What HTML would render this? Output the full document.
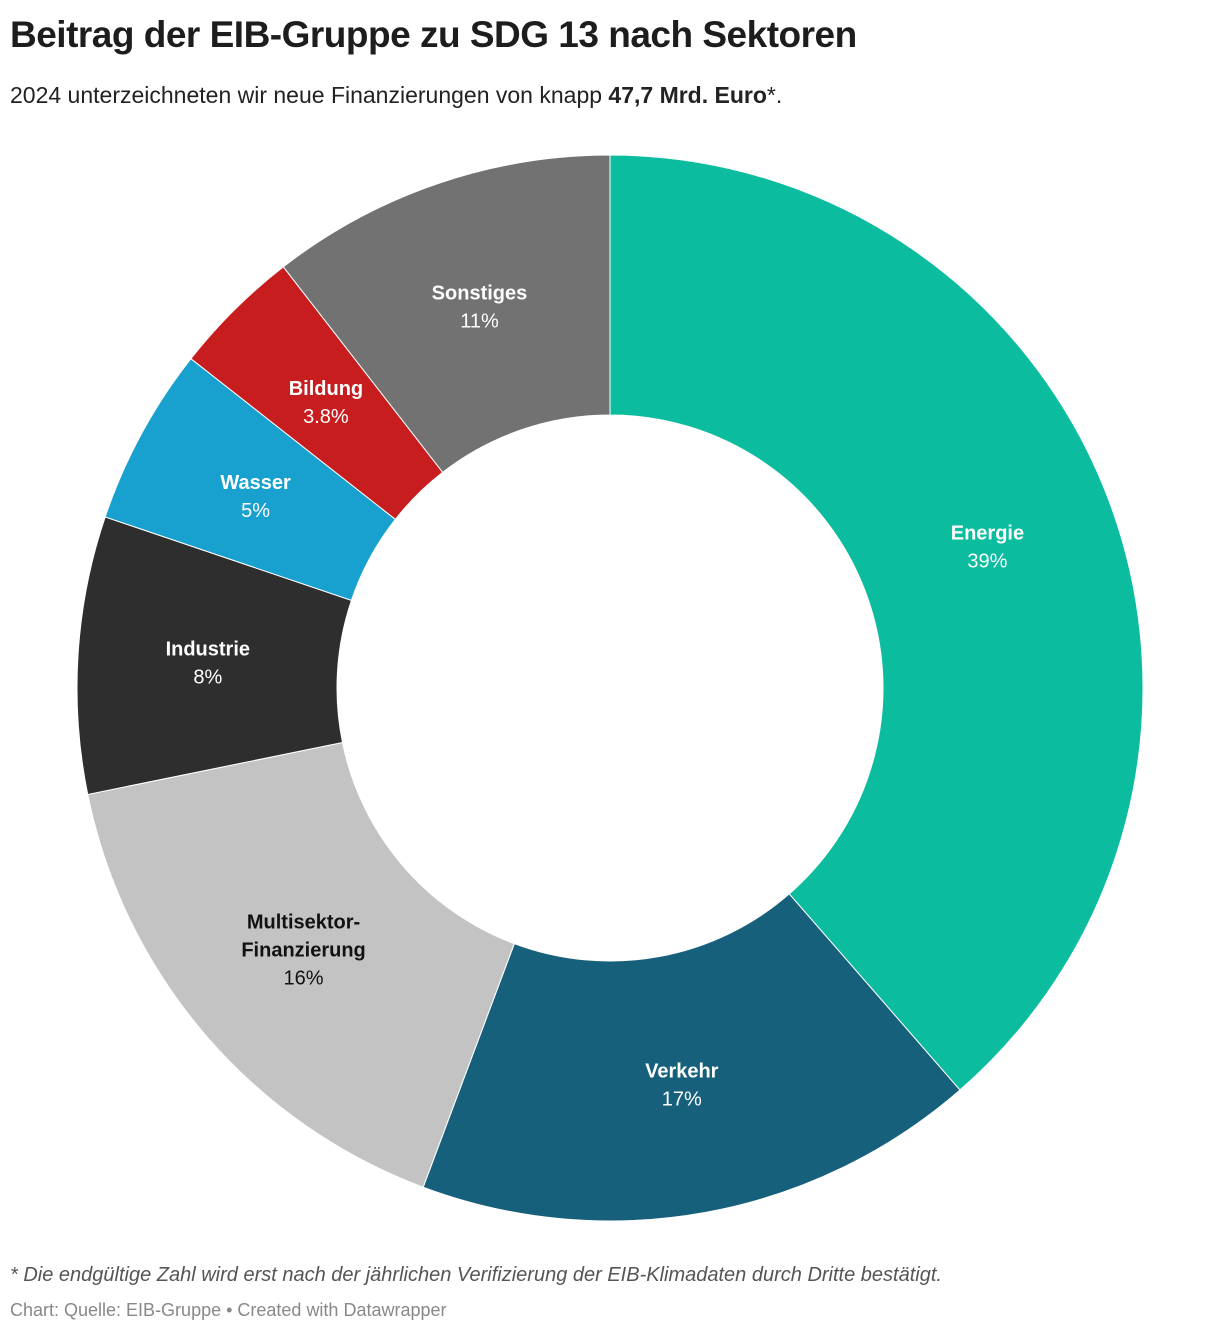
<!DOCTYPE html>
<html><head><meta charset="utf-8">
<style>
body{margin:0;background:#fff;width:1220px;height:1336px;overflow:hidden;font-family:"Liberation Sans",sans-serif;}
#title{position:absolute;left:10px;top:14px;font-size:37px;font-weight:bold;color:#1d1d1d;letter-spacing:-0.5px;}
#sub{position:absolute;left:10px;top:82px;font-size:23px;color:#222;}
#note{position:absolute;left:10px;top:1264px;font-size:20px;font-style:italic;color:#555;}
#src{position:absolute;left:10px;top:1300px;font-size:18px;color:#888;}
svg{position:absolute;left:0;top:0;}
</style></head><body>
<div id="title">Beitrag der EIB-Gruppe zu SDG 13 nach Sektoren</div>
<div id="sub">2024 unterzeichneten wir neue Finanzierungen von knapp <b>47,7 Mrd. Euro</b>*.</div>
<svg id="chart" width="1220" height="1336"></svg>
<div id="note">* Die endgültige Zahl wird erst nach der jährlichen Verifizierung der EIB-Klimadaten durch Dritte bestätigt.</div>
<div id="src">Chart: Quelle: EIB-Gruppe • Created with Datawrapper</div>
<script>
const categories=["Energie","Verkehr","Multisektor-|Finanzierung","Industrie","Wasser","Bildung","Sonstiges"];
const values=[38.6,17.1,16.1,8.4,5.4,3.9,10.5];
const valueLabels=["39%","17%","16%","8%","5%","3.8%","11%"];
const colors=["#0bbc9f","#17607c","#c3c3c3","#2e2e2e","#18a0cf","#c71d1e","#727272"];
const textColors=["#fff","#fff","#111","#fff","#fff","#fff","#fff"];
const cx=610,cy=688,R=533,r=273,NS="http://www.w3.org/2000/svg";
const svg=document.getElementById('chart');
const total=values.reduce((a,b)=>a+b,0);
function pt(a,rad){return [cx+rad*Math.sin(a),cy-rad*Math.cos(a)];}
let acc=0;
values.forEach((v,i)=>{
  const a0=acc/total*2*Math.PI;acc+=v;const a1=acc/total*2*Math.PI;
  const large=(a1-a0)>Math.PI?1:0;
  const p1=pt(a0,R),p2=pt(a1,R),p3=pt(a1,r),p4=pt(a0,r);
  const path=document.createElementNS(NS,'path');
  path.setAttribute('d',`M${p1[0]},${p1[1]}A${R},${R} 0 ${large} 1 ${p2[0]},${p2[1]}L${p3[0]},${p3[1]}A${r},${r} 0 ${large} 0 ${p4[0]},${p4[1]}Z`);
  path.setAttribute('fill',colors[i]);path.setAttribute('stroke','#fff');path.setAttribute('stroke-width','1');
  
  
  svg.appendChild(path);
  const am=(a0+a1)/2,c=pt(am,403);
  const lines=categories[i].split('|');
  const n=lines.length+1;
  const t=document.createElementNS(NS,'text');
  t.setAttribute('text-anchor','middle');t.setAttribute('font-size','20');t.setAttribute('fill',textColors[i]);
  
  
  lines.concat([valueLabels[i]]).forEach((s,k)=>{
    const ts=document.createElementNS(NS,'tspan');
    ts.setAttribute('x',c[0]);ts.setAttribute('y',c[1]+7+(k-(n-1)/2)*28);
    if(k<lines.length)ts.setAttribute('font-weight','bold');
    ts.textContent=s;t.appendChild(ts);
  });
  svg.appendChild(t);
});
</script>
</body></html>
